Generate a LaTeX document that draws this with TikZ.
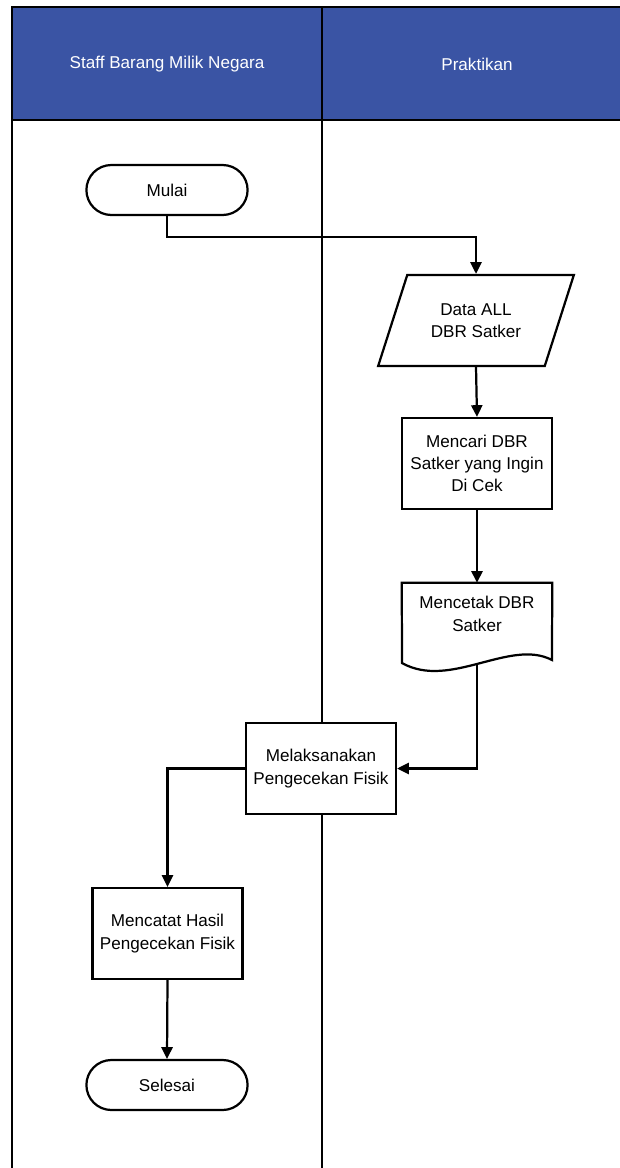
\documentclass[tikz,border=0pt]{standalone}
\usepackage{fontspec}
\setmainfont{Liberation Sans}
\usetikzlibrary{shapes.geometric,shapes.misc,arrows.meta}
\definecolor{headblue}{RGB}{58,84,164}
\begin{document}
\begin{tikzpicture}[x=0.03cm, y=-0.03cm,
	font=\fontsize{14.6}{19}\selectfont,
	term/.style={rounded rectangle, draw, line width=1.9pt, fill=white, minimum width=5.07cm, minimum height=1.5cm},
	proc/.style={rectangle, draw, line width=1.9pt, fill=white, align=center, minimum width=4.5cm, minimum height=2.73cm, inner sep=2pt},
	io/.style={trapezium, trapezium left angle=63.7, trapezium right angle=116.3, trapezium stretches=true, draw, line width=1.9pt, align=center, minimum width=5.88cm, minimum height=2.73cm},
	docbox/.style={rectangle, minimum width=4.5cm, minimum height=2.4cm, inner sep=0pt},
	lane/.style={line width=2.4pt},
	flow/.style={line width=1.9pt, -{Triangle[length=10pt, width=9.5pt]}}]

	\clip (0, 0) rectangle (620, 1168);
	\useasboundingbox (0, 0) rectangle (620, 1168);

	\fill[headblue] (12, 7) rectangle (632, 120);
	\node (hstaff) [text=white] at (167, 64) {Staff Barang Milik Negara};
	\node (hprak) [text=white] at (477, 64) {Praktikan};
	\draw[lane] (12, 7) rectangle (632, 1175);
	\draw[lane] (12, 120) -- (632, 120);
	\draw[lane] (322, 7) -- (322, 1175);

	\node (mulai) [term] at (167, 190) {Mulai};
	\node (data) [io] at (476, 320.5) {Data ALL\\DBR Satker};
	\node (mencari) [proc] at (477, 463.5) {Mencari DBR\\Satker yang Ingin\\Di Cek};
	\node (mencetak) [docbox] at (477, 623) {};
	\draw[line width=1.9pt] (mencetak.north west) -- (mencetak.north east) -- (552, 660)
		.. controls (510, 638) and (450, 690) .. (402, 663) -- cycle;
	\node (mencetaktext) [align=center, yshift=0.27cm] at (mencetak) {Mencetak DBR\\Satker};
	\node (melaksanakan) [proc] at (321, 768.5) {Melaksanakan\\Pengecekan Fisik};
	\node (mencatat) [proc] at (167.5, 933.5) {Mencatat Hasil\\Pengecekan Fisik};
	\node (selesai) [term] at (167, 1085) {Selesai};

	\draw[flow] (mulai.south) -- ++(0, 21) -| (data.north);
	\draw[flow] (data.south) -- (mencari.north);
	\draw[flow] (mencari.south) -- (mencetak.north);
	\draw[flow] (mencetak.south) |- (melaksanakan.east);
	\draw[flow] (melaksanakan.west) -| (mencatat.north);
	\draw[flow] (mencatat.south) -- (selesai.north);

\end{tikzpicture}
\end{document}
